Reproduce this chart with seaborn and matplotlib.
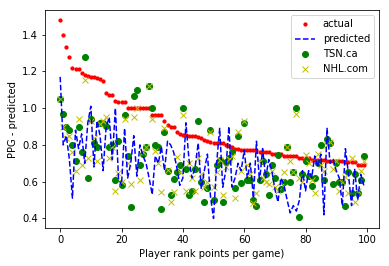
import numpy as np
import pandas as pd
import matplotlib
matplotlib.use("Agg")
import matplotlib.pyplot as plt
import seaborn as sns

# INPUT VALUES
actual = [1.48, 1.40, 1.33, 1.28, 1.22, 1.21, 1.21, 1.19, 1.18, 1.175,
          1.17, 1.17, 1.165, 1.16, 1.145, 1.08, 1.07, 1.07, 1.04, 1.035,
          1.035, 1.035, 1.0, 1.0, 1.0, 1.0, 1.0, 1.0, 1.0, 1.0,
          0.96, 0.96, 0.96, 0.96, 0.93, 0.91, 0.90, 0.895, 0.87, 0.86,
          0.855, 0.855, 0.85, 0.85, 0.85, 0.845, 0.84, 0.825, 0.82, 0.815,
          0.81, 0.81, 0.81, 0.81, 0.80, 0.795, 0.79, 0.78, 0.775, 0.77,
          0.77, 0.77, 0.77, 0.77, 0.77, 0.76, 0.76, 0.76, 0.76, 0.75,
          0.75, 0.75, 0.75, 0.74, 0.74, 0.74, 0.74, 0.74, 0.73, 0.73,
          0.73, 0.73, 0.72, 0.72, 0.72, 0.72, 0.72, 0.71, 0.71, 0.71,
          0.71, 0.71, 0.71, 0.705, 0.705, 0.705, 0.705, 0.69, 0.69, 0.69]

predicted = [1.17, 0.80, 0.85, 0.72, 0.51, 0.88, 0.78, 0.86, 0.70, 0.92,
             1.01, 0.68, 0.93, 0.85, 0.66, 0.90, 0.95, 0.72, 1.00, 0.62,
             0.58, 0.89, 0.62, 0.70, 0.85, 0.63, 0.80, 0.74, 0.70, 0.62,
             0.53, 0.74, 0.70, 0.79, 0.66, 0.82, 0.80, 0.76, 0.68, 0.58,
             0.62, 0.92, 0.72, 0.62, 0.68, 0.81, 0.56, 0.66, 0.75, 0.52,
             0.40, 0.70, 0.89, 0.57, 0.66, 0.90, 0.57, 0.62, 0.70, 0.66,
             0.77, 0.62, 0.70, 0.51, 0.82, 0.60, 0.78, 0.62, 0.72, 0.66,
             0.56, 0.49, 0.62, 0.58, 0.50, 0.43, 0.47, 0.44, 0.50, 0.66,
             0.55, 0.66, 0.62, 0.74, 0.68, 0.75, 0.42, 0.89, 0.70, 0.72,
             0.66, 0.62, 0.47, 0.78, 0.64, 0.47, 0.67, 0.50, 0.64, 0.58]

tsn = [1.05, 0.97, 0.90, 0.88, 0.80, 0.71, 0.90, 0.76, 1.28, 0.62,
       0.94, 0.81, 0.79, 0.92, 0.92, 0.905, 0.79, 0.80, 0.61, 0.82,
       0.58, 0.96, 0.74, 0.46, 1.065, 1.10, 0.69, 0.75, 0.79, 1.12,
       1.00, 0.80, 0.79, 0.45, 0.87, 0.66, 0.53, 0.615, 0.65, 0.69,
       1.00, 0.67, 0.53, 0.55, 0.67, 0.93, 0.60, 0.49, 0.565, 0.88,
       0.50, 0.69, 0.72, 0.49, 0.705, 0.73, 0.76, 0.565, 0.85, 0.595,
       0.92, 0.61, 0.61, 0.50, 0.47, 0.61, 0.71, 0.64, 0.53, 0.69,
       0.62, 0.746, 0.56, 0.60, 0.79, 0.60, 0.65, 1.00, 0.41, 0.64,
       0.715, 0.63, 0.575, 0.62, 0.70, 0.80, 0.61, 0.833, 0.81, 0.59,
       0.70, 0.60, 0.60, 0.47, 0.65, 0.54, 0.64, 0.54, 0.61, 0.74]

nhl = [1.05, 0.90, 0.84, 0.85, 0.76, 0.66, 0.94, 0.69, 1.155, 0.73,
       0.93, 0.84, 0.71, 0.915, 0.93, 0.95, 0.73, 0.79, 0.55, 0.645,
       0.60, 0.94, 0.70, 0.59, 0.95, 1.00, 0.61, 0.76, 0.79, 1.12,
       0.94, 0.765, 0.70, 0.545, 0.89, 0.665, 0.49, 0.545, 0.735, 0.655,
       0.96, 0.55, 0.70, 0.62, 0.55, 0.73, 0.64, 0.57, 0.60, 0.87,
       0.57, 0.65, 0.72, 0.525, 0.68, 0.725, 0.74, 0.51, 0.87, 0.66,
       0.93, 0.69, 0.64, 0.485, 0.54, 0.71, 0.62, 0.60, 0.59, 0.66,
       0.57, 0.55, 0.60, 0.65, 0.79, 0.71, 0.65, 0.97, 0.62, 0.60,
       0.746, 0.70, 0.61, 0.54, 0.75, 0.69, 0.66, 0.80, 0.815, 0.67,
       0.71, 0.55, 0.60, 0.625, 0.54, 0.73, 0.49, 0.55, 0.66, 0.71]

rank = np.arange(len(actual))
data = pd.DataFrame({"rank": rank, "actual": actual, "predicted": predicted,
                     "tsn": tsn, "nhl": nhl})

# Plot Results
plt.rcParams["font.size"] = 10
fig = plt.figure(figsize=(389 / 72, 266 / 72), dpi=72)
ax = fig.add_axes([45 / 389, 1 - 228.3 / 266, 334 / 389, 218.3 / 266])

sns.scatterplot(x="rank", y="actual", data=data, ax=ax, color="r", marker="o",
                s=18, linewidth=0, label="actual")
sns.lineplot(x="rank", y="predicted", data=data, ax=ax, color="b",
             linestyle="--", linewidth=1.5, sort=False, label="predicted")
sns.scatterplot(x="rank", y="tsn", data=data, ax=ax, color="g", marker="o",
                s=36, edgecolor="g", linewidth=1, label="TSN.ca")
sns.scatterplot(x="rank", y="nhl", data=data, ax=ax, color="y", marker="x",
                s=36, linewidth=1, label="NHL.com")

ax.set_xlim(-4.95, 103.95)
ax.set_ylim(0.3465, 1.5335)
ax.set_xticks([0, 20, 40, 60, 80, 100])
ax.set_yticks([0.4, 0.6, 0.8, 1.0, 1.2, 1.4])
ax.set_xlabel("Player rank points per game)")
ax.set_ylabel("PPG - predicted")
ax.legend(loc="upper right")

fig.savefig("out.png", dpi=72)
